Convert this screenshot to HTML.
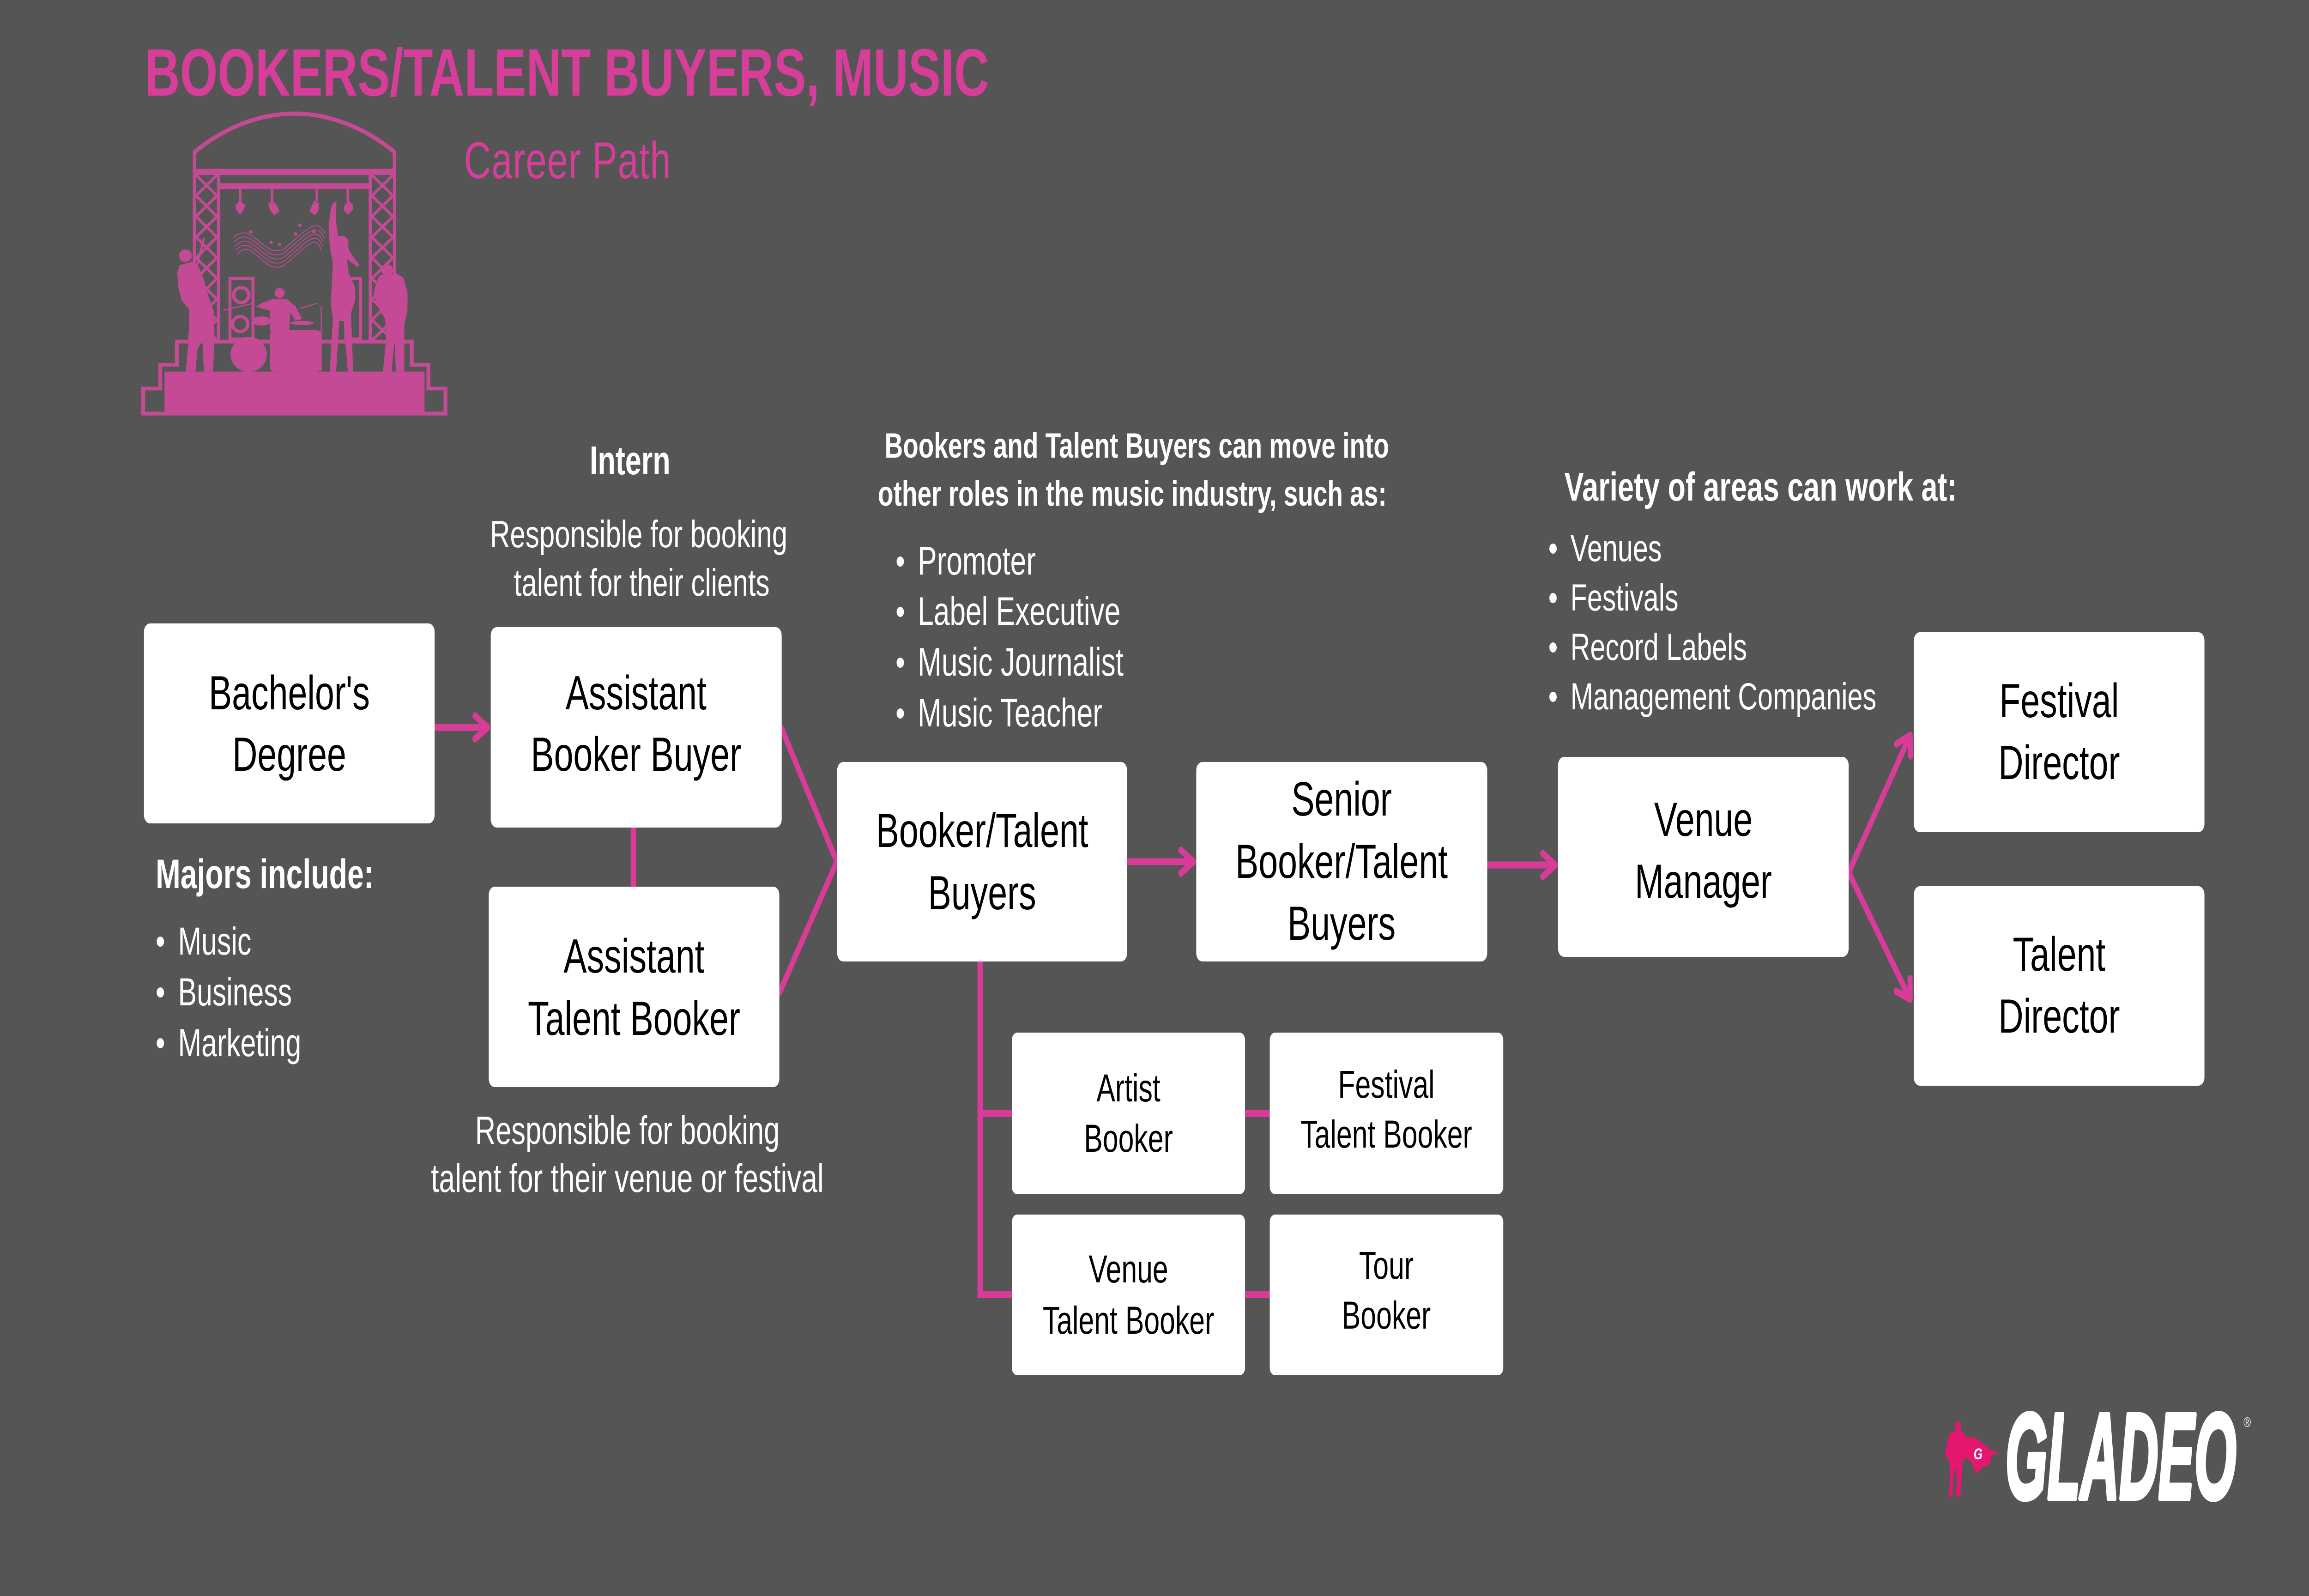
<!DOCTYPE html>
<html><head><meta charset="utf-8"><style>
html,body{margin:0;padding:0;background:#555555;width:100%;height:100%;overflow:hidden}
svg{display:block;position:absolute;left:0;top:0;width:100vw;height:100vh}
</style></head><body>
<svg viewBox="0 0 6912 3456" preserveAspectRatio="none" xmlns="http://www.w3.org/2000/svg" font-family="'Liberation Sans', Arial, sans-serif">
<defs>
<marker id="ah" markerUnits="userSpaceOnUse" orient="auto" markerWidth="100" markerHeight="100" viewBox="-60 -50 100 100" refX="0" refY="0" overflow="visible">
<path d="M-38,-25 L0,0 L-38,25" fill="none" stroke="#D83C98" stroke-width="15" stroke-linecap="round" stroke-linejoin="round"/>
</marker>
</defs>
<rect x="0" y="0" width="6912" height="3456" fill="#555555"/>

<!-- Title -->
<text x="434" y="207" font-size="145" font-weight="bold" fill="#D63E99">BOOKERS/TALENT BUYERS, MUSIC</text>
<text x="1389" y="386" font-size="112" fill="#D63E99" letter-spacing="1.5">Career Path</text>

<!-- Stage illustration -->
<g transform="translate(400,220) scale(0.638,0.448)" fill="#C54A96">
  <path d="M285,245 C430,120 600,58 755,58 C910,58 1080,120 1225,245" fill="none" stroke="#C54A96" stroke-width="20"/>
  <rect x="278" y="240" width="16" height="95"/>
  <rect x="1216" y="240" width="16" height="95"/>
  <rect x="278" y="325" width="954" height="30"/>
  <rect x="278" y="325" width="15" height="835"/>
  <rect x="391" y="325" width="15" height="835"/>
  <rect x="1103" y="325" width="15" height="835"/>
  <rect x="1217" y="325" width="15" height="835"/>
  <rect x="405" y="395" width="700" height="28"/>
  <g fill="none" stroke="#C54A96" stroke-width="13">
    <path d="M293,355 L391,455 L293,555 L391,655 L293,755 L391,855 L293,955 L391,1055 L293,1155 M391,355 L293,455 L391,555 L293,655 L391,755 L293,855 L391,955 L293,1055 L391,1155"/>
    <path d="M1118,355 L1217,455 L1118,555 L1217,655 L1118,755 L1217,855 L1118,955 L1217,1055 L1118,1155 M1217,355 L1118,455 L1217,555 L1118,655 L1217,755 L1118,855 L1217,955 L1118,1055 L1217,1155"/>
  </g>
  <rect x="494" y="420" width="12" height="62"/>
  <rect x="644" y="420" width="12" height="62"/>
  <rect x="854" y="420" width="12" height="62"/>
  <rect x="999" y="420" width="12" height="62"/>
  <path d="M478,500 L500,478 L522,500 L518,522 L500,548 L480,522 Z"/>
  <path d="M632,492 L650,478 L672,500 L685,530 L660,550 L640,525 Z"/>
  <path d="M848,478 L870,492 L868,525 L850,550 L825,530 L838,500 Z"/>
  <path d="M990,500 L1008,478 L1030,500 L1028,522 L1005,548 L985,522 Z"/>
  <g fill="none" stroke="#C54A96" stroke-width="4">
    <path d="M465,660 C560,560 620,790 720,700 S860,560 900,640"/>
    <path d="M470,680 C560,580 620,810 720,720 S860,580 895,660"/>
    <path d="M475,700 C560,600 620,830 720,740 S860,600 890,680"/>
    <path d="M480,720 C560,620 620,850 720,760 S860,620 885,700"/>
    <path d="M485,740 C560,640 620,870 720,780 S860,640 880,720"/>
  </g>
  <circle cx="550" cy="630" r="8"/><circle cx="645" cy="680" r="8"/><circle cx="685" cy="690" r="8"/><circle cx="760" cy="640" r="8"/><circle cx="780" cy="598" r="8"/><circle cx="845" cy="628" r="8"/>
  <rect x="452" y="855" width="108" height="292" fill="none" stroke="#C54A96" stroke-width="14"/>
  <circle cx="505" cy="935" r="36" fill="none" stroke="#C54A96" stroke-width="16"/>
  <circle cx="500" cy="1075" r="36" fill="none" stroke="#C54A96" stroke-width="16"/>
  <rect x="995" y="855" width="70" height="292" fill="none" stroke="#C54A96" stroke-width="14"/>
  <path d="M203,1160 L1305,1160 L1305,1272 L1383,1272 L1383,1387 L1463,1387 L1463,1508 L45,1508 L45,1387 L125,1387 L125,1272 L203,1272 Z" fill="none" stroke="#C54A96" stroke-width="18"/>
  <rect x="145" y="1305" width="1220" height="210"/>
  <!-- left guitarist -->
  <circle cx="243" cy="745" r="30"/>
  <path d="M215,790 L275,775 L305,800 L330,860 L350,940 L375,1010 L380,1150 L372,1305 L330,1305 L322,1150 L300,1200 L290,1305 L245,1305 L255,1180 L262,1050 L258,1000 L225,960 L210,900 L205,830 Z"/>
  <path d="M250,990 L330,660" stroke="#C54A96" stroke-width="10"/>
  <!-- drummer -->
  <circle cx="685" cy="925" r="24"/>
  <path d="M650,955 L720,955 L760,990 L790,1050 L760,1060 L735,1020 L730,1110 L640,1110 L640,1010 L600,1000 L575,990 L600,975 Z"/>
  <circle cx="540" cy="1222" r="85"/>
  <rect x="640" y="1105" width="240" height="200" rx="20"/>
  <ellipse cx="600" cy="1060" rx="45" ry="22"/>
  <ellipse cx="790" cy="1070" rx="55" ry="10"/>
  <path d="M420,1010 L560,975 M780,1000 L860,975 M880,990 L880,1305" stroke="#C54A96" stroke-width="5"/>
  <!-- singer -->
  <circle cx="980" cy="680" r="28"/>
  <path d="M935,490 L952,482 L948,570 L960,650 L985,648 L1005,670 L1010,720 L1060,790 L1050,800 L1000,760 L1010,830 L1040,900 L1040,960 L1020,1020 L1030,1305 L1005,1305 L985,1060 L965,1060 L950,1305 L920,1305 L935,1050 L925,980 L930,880 L935,780 L920,700 L915,600 L925,520 Z"/>
  <!-- right guitarist -->
  <circle cx="1190" cy="815" r="28"/>
  <path d="M1155,840 L1230,830 L1265,850 L1285,920 L1285,1010 L1270,1080 L1270,1305 L1230,1305 L1225,1150 L1210,1305 L1170,1305 L1185,1150 L1180,1050 L1150,1000 L1125,930 L1140,870 Z"/>
</g>

<!-- Connectors -->
<g stroke="#D83C98" stroke-width="15" fill="none" stroke-linecap="round" stroke-linejoin="round">
  <line x1="1301" y1="1575" x2="1460" y2="1575" marker-end="url(#ah)" stroke-linecap="butt"/>
  <line x1="3374" y1="1866" x2="3573" y2="1866" marker-end="url(#ah)" stroke-linecap="butt"/>
  <line x1="4452" y1="1873" x2="4656" y2="1873" marker-end="url(#ah)" stroke-linecap="butt"/>
  <line x1="5534" y1="1889" x2="5718" y2="1592" marker-end="url(#ah)"/>
  <line x1="5534" y1="1889" x2="5718" y2="2164" marker-end="url(#ah)"/>
  <polyline points="2340,1578 2505,1866 2333,2150"/>
</g>
<g stroke="#D83C98" stroke-width="16" fill="none" stroke-linecap="butt" stroke-linejoin="miter">
  <line x1="1896" y1="1792" x2="1896" y2="1920"/>
  <path d="M2934,2082 L2934,2803 L3029,2803 M2934,2411 L3029,2411"/>
  <path d="M3727,2411 L3801,2411 M3727,2803 L3801,2803"/>
</g>

<!-- Boxes -->
<g fill="#FFFFFF">
  <rect x="431" y="1350" width="870" height="433" rx="18"/>
  <rect x="1469" y="1358" width="871" height="434" rx="18"/>
  <rect x="1463" y="1920" width="870" height="434" rx="18"/>
  <rect x="2506" y="1650" width="868" height="432" rx="18"/>
  <rect x="3581" y="1650" width="871" height="432" rx="18"/>
  <rect x="4664" y="1639" width="870" height="433" rx="18"/>
  <rect x="5729" y="1369" width="870" height="433" rx="18"/>
  <rect x="5729" y="1919" width="870" height="432" rx="18"/>
  <rect x="3029" y="2236" width="698" height="350" rx="16"/>
  <rect x="3801" y="2236" width="699" height="350" rx="16"/>
  <rect x="3029" y="2630" width="698" height="348" rx="16"/>
  <rect x="3801" y="2630" width="699" height="348" rx="16"/>
</g>

<!-- Box text -->
<g fill="#000000" font-size="104" text-anchor="middle">
  <text x="866" y="1536">Bachelor's</text>
  <text x="866" y="1669">Degree</text>
  <text x="1904" y="1536">Assistant</text>
  <text x="1904" y="1669">Booker Buyer</text>
  <text x="1898" y="2106">Assistant</text>
  <text x="1898" y="2241">Talent Booker</text>
  <text x="2940" y="1834">Booker/Talent</text>
  <text x="2940" y="1969">Buyers</text>
  <text x="4016" y="1766">Senior</text>
  <text x="4016" y="1901">Booker/Talent</text>
  <text x="4016" y="2035">Buyers</text>
  <text x="5099" y="1810">Venue</text>
  <text x="5099" y="1944">Manager</text>
  <text x="6164" y="1553">Festival</text>
  <text x="6164" y="1687">Director</text>
  <text x="6164" y="2102">Talent</text>
  <text x="6164" y="2236">Director</text>
</g>
<g fill="#000000" font-size="84" text-anchor="middle">
  <text x="3378" y="2385">Artist</text>
  <text x="3378" y="2494">Booker</text>
  <text x="4150" y="2377">Festival</text>
  <text x="4150" y="2485">Talent Booker</text>
  <text x="3378" y="2777">Venue</text>
  <text x="3378" y="2888">Talent Booker</text>
  <text x="4150" y="2769">Tour</text>
  <text x="4150" y="2877">Booker</text>
</g>

<!-- Side texts -->
<g fill="#FFFFFF">
  <text x="1886" y="1027" font-size="87" font-weight="bold" text-anchor="middle">Intern</text>
  <text x="1912" y="1185" font-size="83" text-anchor="middle">Responsible for booking</text>
  <text x="1921" y="1290" font-size="83" text-anchor="middle">talent for their clients</text>
  <text x="1878" y="2477" font-size="85" text-anchor="middle">Responsible for booking</text>
  <text x="1878" y="2581" font-size="86" text-anchor="middle">talent for their venue or festival</text>

  <text x="466" y="1923" font-size="89" font-weight="bold">Majors include:</text>
  <circle cx="480" cy="2039" r="11"/><text x="533" y="2067" font-size="84">Music</text>
  <circle cx="480" cy="2149" r="11"/><text x="533" y="2177" font-size="84">Business</text>
  <circle cx="480" cy="2259" r="11"/><text x="533" y="2287" font-size="84">Marketing</text>

  <text x="2648" y="991" font-size="76" font-weight="bold">Bookers and Talent Buyers can move into</text>
  <text x="2628" y="1095" font-size="76" font-weight="bold">other roles in the music industry, such as:</text>
  <circle cx="2695" cy="1216" r="11"/><text x="2747" y="1244" font-size="86">Promoter</text>
  <circle cx="2695" cy="1325" r="11"/><text x="2747" y="1353" font-size="86">Label Executive</text>
  <circle cx="2695" cy="1435" r="11"/><text x="2747" y="1463" font-size="86">Music Journalist</text>
  <circle cx="2695" cy="1545" r="11"/><text x="2747" y="1573" font-size="86">Music Teacher</text>

  <text x="4683" y="1084" font-size="87" font-weight="bold">Variety of areas can work at:</text>
  <circle cx="4649" cy="1188" r="11"/><text x="4701" y="1215" font-size="82">Venues</text>
  <circle cx="4649" cy="1295" r="11"/><text x="4701" y="1322" font-size="82">Festivals</text>
  <circle cx="4649" cy="1402" r="11"/><text x="4701" y="1429" font-size="82">Record Labels</text>
  <circle cx="4649" cy="1509" r="11"/><text x="4701" y="1536" font-size="82">Management Companies</text>
</g>

<!-- GLADEO logo -->
<g fill="#E4166E">
  <ellipse cx="5861" cy="3092" rx="9" ry="15"/>
  <path d="M5840,3101 L5880,3101 L5885,3140 L5882,3160 L5875,3165 L5872,3200 L5868,3240 L5855,3243 L5858,3200 L5852,3175 L5848,3200 L5845,3240 L5833,3243 L5838,3200 L5836,3165 L5823,3150 L5829,3120 Z"/>
  <path d="M5878,3110 L5915,3114 L5960,3140 L5988,3147 L5962,3150 L5955,3172 L5935,3176 L5915,3192 L5900,3165 L5884,3155 Z"/>
</g>
<text x="5908" y="3160" font-size="34" font-weight="bold" font-style="italic" fill="#FFFFFF">G</text>
<text transform="translate(6003,3245) scale(0.61,1)" font-size="265" font-weight="bold" font-style="italic" fill="#FFFFFF" stroke="#FFFFFF" stroke-width="10" stroke-linejoin="round">GLADEO</text>
<text x="6716" y="3090" font-size="30" fill="#FFFFFF">®</text>
</svg>
</body></html>
